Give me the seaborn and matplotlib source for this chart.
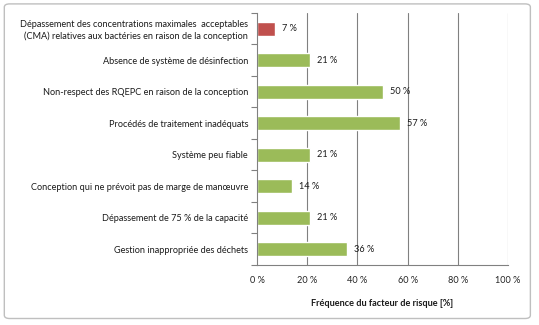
import matplotlib
matplotlib.use("Agg")
import matplotlib.pyplot as plt
import seaborn as sns
import pandas as pd
from matplotlib.patches import FancyBboxPatch

categories = [
    "Dépassement des concentrations maximales  acceptables\n(CMA) relatives aux bactéries en raison de la conception",
    "Absence de système de désinfection",
    "Non-respect des RQEPC en raison de la conception",
    "Procédés de traitement inadéquats",
    "Système peu fiable",
    "Conception qui ne prévoit pas de marge de manœuvre",
    "Dépassement de 75 % de la capacité",
    "Gestion inappropriée des déchets",
]
values = [7, 21, 50, 57, 21, 14, 21, 36]
colors = ["#C0504D"] + ["#9BBB59"] * 7
xticks = [0, 20, 40, 60, 80, 100]
xlabel = "Fréquence du facteur de risque [%]"

sns.set_theme(style="white")
plt.rcParams['font.family'] = ['Lato', 'DejaVu Sans']

df = pd.DataFrame({"cat": categories, "val": values})

fig = plt.figure(figsize=(5.39, 3.25), dpi=100)
ax = fig.add_axes([0.477, 0.185, 0.4655, 0.775])

sns.barplot(data=df, x="val", y="cat", hue="cat", palette=colors, legend=False,
            width=0.45, ax=ax, saturation=1, orient="h")

ax.set_xlim(0, 100)
ax.set_ylim(len(categories) - 0.5, -0.5)
ax.set_xticks(xticks)
ax.set_xticklabels([f"{t} %" for t in xticks], fontsize=6.6, color="#222222")
ax.tick_params(axis="x", length=0, pad=8)
ax.set_yticks([i - 0.5 for i in range(len(categories) + 1)], minor=True)
ax.tick_params(axis="y", which="major", length=0, pad=6.5, labelsize=6.6, labelcolor="#1a1a1a")
ax.tick_params(axis="y", which="minor", length=4, color="#808080", width=0.8, direction="out", left=True)
ax.set_ylabel("")
ax.set_xlabel(xlabel, fontsize=6.6, fontweight="bold", color="#1a1a1a", labelpad=10)

for x in xticks[1:]:
    ax.axvline(x, color="#808080", lw=0.8, zorder=0)
ax.set_axisbelow(True)

for s in ["top", "right"]:
    ax.spines[s].set_visible(False)
for s in ["left", "bottom"]:
    ax.spines[s].set_color("#808080")
    ax.spines[s].set_linewidth(0.8)

for i, v in enumerate(values):
    ax.text(v + 2.8, i, f"{v} %", va="center", ha="left", fontsize=6.6, color="#1a1a1a")

border = FancyBboxPatch((0.008, 0.02), 0.976, 0.968, boxstyle="round,pad=0,rounding_size=0.01",
                        transform=fig.transFigure, fill=False, edgecolor="#BFBFBF", lw=1)
fig.patches.append(border)

fig.savefig("out.png", dpi=100)
